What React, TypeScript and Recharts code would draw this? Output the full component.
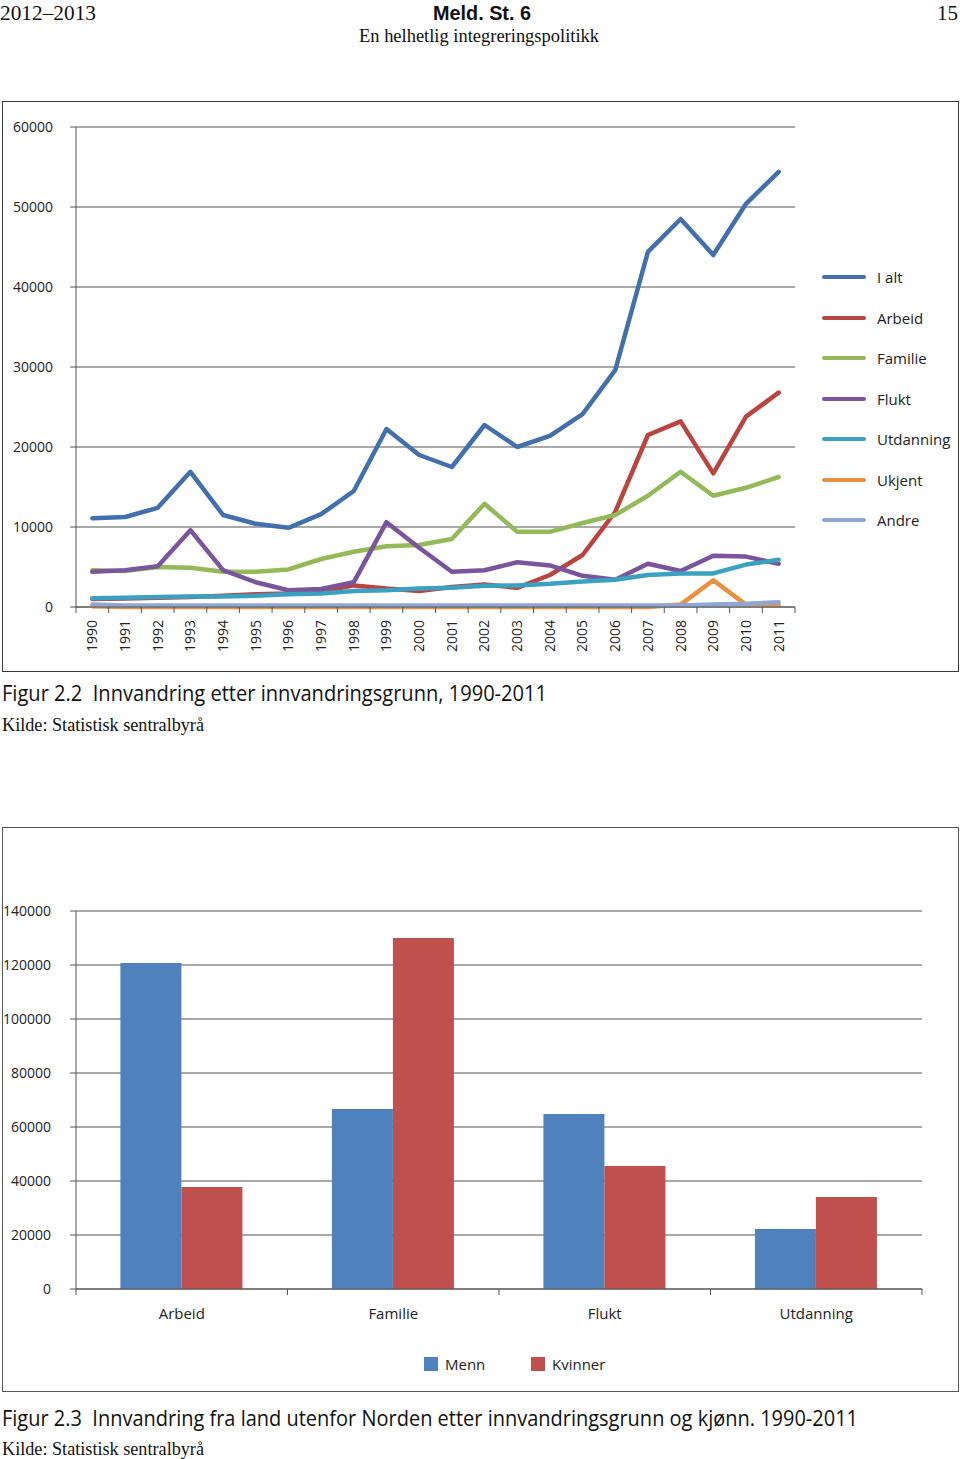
import React from "react"
import { LineChart, Line, BarChart, Bar, XAxis, YAxis, CartesianGrid, Legend } from "recharts"

// Figur 2.2 – innvandring etter grunn
const years = [
  "1990", "1991", "1992", "1993", "1994", "1995", "1996", "1997", "1998", "1999", "2000",
  "2001", "2002", "2003", "2004", "2005", "2006", "2007", "2008", "2009", "2010", "2011",
]
const iAlt = [11100, 11250, 12400, 16900, 11500, 10400, 9900, 11600, 14500, 22250, 19000, 17500, 22750, 20000, 21400, 24100, 29600, 44400, 48500, 44000, 50400, 54400]
const arbeid = [1000, 1050, 1150, 1250, 1400, 1600, 1700, 1900, 2700, 2300, 2000, 2500, 2800, 2400, 4000, 6500, 11900, 21500, 23200, 16700, 23800, 26800]
const familie = [4600, 4500, 5000, 4900, 4400, 4400, 4700, 6000, 6900, 7600, 7750, 8500, 12900, 9400, 9400, 10500, 11500, 13900, 16900, 13900, 14900, 16250]
const flukt = [4400, 4600, 5100, 9600, 4600, 3100, 2100, 2250, 3100, 10600, 7400, 4400, 4600, 5600, 5200, 3900, 3400, 5400, 4500, 6400, 6300, 5400]
const utdanning = [1100, 1150, 1250, 1300, 1300, 1400, 1600, 1700, 2000, 2100, 2300, 2400, 2650, 2700, 2900, 3200, 3400, 4000, 4200, 4200, 5300, 5900]
const ukjent = [100, 0, 0, 0, 0, 0, 0, 0, 0, 0, 0, 0, 0, 0, 0, 0, 0, 0, 300, 3350, 300, 300]
const andre = [300, 200, 200, 200, 200, 200, 200, 200, 200, 200, 200, 200, 200, 200, 200, 200, 200, 200, 200, 300, 400, 600]

// Figur 2.3 – etter grunn og kjønn
const grunner = ["Arbeid", "Familie", "Flukt", "Utdanning"]
const menn = [120700, 66700, 64800, 22200]
const kvinner = [37800, 130000, 45600, 34100]

const lineTicks = [0, 10000, 20000, 30000, 40000, 50000, 60000]
const barTicks = [0, 20000, 40000, 60000, 80000, 100000, 120000, 140000]

const lineSeries = [
  { key: "iAlt", name: "I alt", color: "#4270AD" },
  { key: "arbeid", name: "Arbeid", color: "#BC4440" },
  { key: "familie", name: "Familie", color: "#93B958" },
  { key: "flukt", name: "Flukt", color: "#7A549C" },
  { key: "utdanning", name: "Utdanning", color: "#3BA1C0" },
  { key: "ukjent", name: "Ukjent", color: "#EA903F" },
  { key: "andre", name: "Andre", color: "#8FA8D2" },
]

const barSeries = [
  { key: "menn", name: "Menn", color: "#4F81BD" },
  { key: "kvinner", name: "Kvinner", color: "#C0504D" },
]

const lineData = years.map((year, i) => ({
  year,
  iAlt: iAlt[i],
  arbeid: arbeid[i],
  familie: familie[i],
  flukt: flukt[i],
  utdanning: utdanning[i],
  ukjent: ukjent[i],
  andre: andre[i],
}))

const barData = grunner.map((g, i) => ({ grunn: g, menn: menn[i], kvinner: kvinner[i] }))

const FONT = "'Open Sans', 'Noto Sans', sans-serif"
const AXIS = "#555"
const TEXT = "#222"

// tick marks between categories, like Excel
const YearTick = (props: any) => {
  const { x, y, payload, index } = props
  const half = payload?.offset || 16.35
  return (
    <g>
      <line x1={x - half} x2={x - half} y1={y - 6} y2={y} stroke={AXIS} />
      {index === years.length - 1 && <line x1={x + half} x2={x + half} y1={y - 6} y2={y} stroke={AXIS} />}
      <text
        transform={`translate(${x},${y + 7}) rotate(-90)`}
        textAnchor="end"
        dy="0.35em"
        fontSize={14}
        fontFamily={FONT}
        fill={TEXT}
      >
        {payload.value}
      </text>
    </g>
  )
}

const GrunnTick = (props: any) => {
  const { x, y, payload, index } = props
  const half = payload?.offset || 105.75
  return (
    <g>
      <line x1={x - half} x2={x - half} y1={y - 6} y2={y} stroke={AXIS} />
      {index === grunner.length - 1 && <line x1={x + half} x2={x + half} y1={y - 6} y2={y} stroke={AXIS} />}
      <text x={x} y={y + 24} textAnchor="middle" fontSize={15} fontFamily={FONT} fill={TEXT}>
        {payload.value}
      </text>
    </g>
  )
}

const LineLegend = () => (
  <div style={{ fontFamily: FONT, fontSize: 15, color: TEXT }}>
    {lineSeries.map((s) => (
      <div key={s.key} style={{ height: 40.5, display: "flex", alignItems: "center" }}>
        <div style={{ width: 44, height: 4, borderRadius: 2, background: s.color, marginRight: 11 }} />
        <span>{s.name}</span>
      </div>
    ))}
  </div>
)

const BarLegend = () => (
  <div style={{ fontFamily: FONT, fontSize: 15, color: TEXT, display: "flex" }}>
    {barSeries.map((s) => (
      <div key={s.key} style={{ display: "flex", alignItems: "center", width: 107 }}>
        <div style={{ width: 14, height: 14, background: s.color, marginRight: 7 }} />
        <span>{s.name}</span>
      </div>
    ))}
  </div>
)

const serif = "'Liberation Serif', 'DejaVu Serif', serif"

export default function App() {
  return (
    <div style={{ position: "absolute", left: 0, top: 0, width: 960, height: 1459, background: "#fff", overflow: "hidden" }}>
      {/* page text */}
      <svg width={960} height={1459} style={{ position: "absolute", left: 0, top: 0 }}>
        <text x={0} y={20} fontFamily={serif} fontSize={22} textLength={96} lengthAdjust="spacingAndGlyphs" fill="#111">2012–2013</text>
        <text x={433} y={20} fontFamily="'Liberation Sans', Arial, sans-serif" fontWeight="bold" fontSize={21} textLength={98} lengthAdjust="spacingAndGlyphs" fill="#111">Meld. St. 6</text>
        <text x={359} y={42} fontFamily={serif} fontSize={19} textLength={240} lengthAdjust="spacingAndGlyphs" fill="#111">En helhetlig integreringspolitikk</text>
        <text x={937} y={20} fontFamily={serif} fontSize={22} textLength={21} lengthAdjust="spacingAndGlyphs" fill="#111">15</text>

        <text x={2} y={701} fontFamily={FONT} fontSize={21} textLength={545} lengthAdjust="spacingAndGlyphs" fill="#111" xmlSpace="preserve">Figur 2.2  Innvandring etter innvandringsgrunn, 1990-2011</text>
        <text x={2} y={731} fontFamily={serif} fontSize={18} textLength={202} lengthAdjust="spacingAndGlyphs" fill="#111">Kilde: Statistisk sentralbyrå</text>

        <text x={2} y={1426} fontFamily={FONT} fontSize={21} textLength={856} lengthAdjust="spacingAndGlyphs" fill="#111" xmlSpace="preserve">Figur 2.3  Innvandring fra land utenfor Norden etter innvandringsgrunn og kjønn. 1990-2011</text>
        <text x={2} y={1455} fontFamily={serif} fontSize={18} textLength={202} lengthAdjust="spacingAndGlyphs" fill="#111">Kilde: Statistisk sentralbyrå</text>
      </svg>

      {/* Figur 2.2 */}
      <div style={{ position: "absolute", left: 2, top: 101, width: 957, height: 571, border: "1.5px solid #3a3a3a", boxSizing: "border-box" }} />
      <div style={{ position: "absolute", left: 0, top: 101 }}>
        <LineChart width={960} height={571} data={lineData} margin={{ top: 26, right: 165, bottom: 5, left: 0 }}>
          <CartesianGrid vertical={false} stroke={AXIS} />
          <XAxis
            dataKey="year"
            scale="band"
            height={60}
            stroke={AXIS}
            tickLine={false}
            tickSize={6}
            tickMargin={0}
            interval={0}
            tick={<YearTick />}
          />
          <YAxis
            width={76}
            domain={[0, 60000]}
            ticks={lineTicks}
            stroke={AXIS}
            tickSize={6}
            tickMargin={17}
            tick={{ fontSize: 14, fontFamily: FONT, fill: TEXT }}
          />
          <Legend
            layout="vertical"
            align="center"
            verticalAlign="middle"
            wrapperStyle={{ left: 822, top: 155.75, width: 138 }}
            content={<LineLegend />}
          />
          {lineSeries.map((s) => (
            <Line
              key={s.key}
              type="linear"
              dataKey={s.key}
              name={s.name}
              stroke={s.color}
              strokeWidth={4.5}
              strokeLinejoin="round"
              strokeLinecap="round"
              dot={false}
              activeDot={false}
              isAnimationActive={false}
            />
          ))}
        </LineChart>
      </div>

      {/* Figur 2.3 */}
      <div style={{ position: "absolute", left: 2, top: 827, width: 957, height: 565, border: "1.5px solid #555", boxSizing: "border-box" }} />
      <div style={{ position: "absolute", left: 0, top: 827 }}>
        <BarChart
          width={960}
          height={565}
          data={barData}
          margin={{ top: 84, right: 38, bottom: 63, left: 0 }}
          barCategoryGap="21%"
          barGap={0}
        >
          <CartesianGrid vertical={false} stroke={AXIS} />
          <XAxis
            dataKey="grunn"
            height={40}
            stroke={AXIS}
            tickLine={false}
            tickSize={6}
            tickMargin={0}
            interval={0}
            tick={<GrunnTick />}
          />
          <YAxis
            width={76}
            domain={[0, 140000]}
            ticks={barTicks}
            stroke={AXIS}
            tickSize={6}
            tickMargin={19}
            tick={{ fontSize: 14, fontFamily: FONT, fill: TEXT }}
          />
          <Legend
            layout="vertical"
            align="center"
            verticalAlign="middle"
            wrapperStyle={{ left: 424, top: 527, width: 220 }}
            content={<BarLegend />}
          />
          {barSeries.map((s) => (
            <Bar key={s.key} dataKey={s.key} name={s.name} fill={s.color} isAnimationActive={false} />
          ))}
        </BarChart>
      </div>
    </div>
  )
}
